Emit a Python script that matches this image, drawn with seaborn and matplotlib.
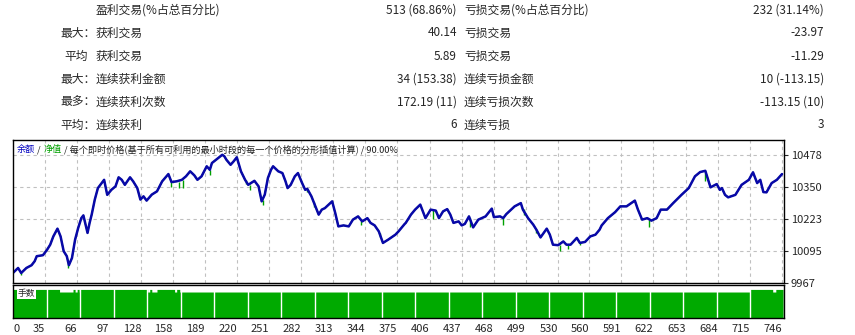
import numpy as np
import pandas as pd
import matplotlib
matplotlib.use("Agg")
import matplotlib.pyplot as plt
import seaborn as sns

# report table
prefix = ["", "最大：", "平均", "最大：", "最多：", "平均："]
win_labels = ["盈利交易(%占总百分比)", "获利交易", "获利交易", "连续获利金额", "连续获利次数", "连续获利"]
win_values = ["513 (68.86%)", "40.14", "5.89", "34 (153.38)", "172.19 (11)", "6"]
loss_labels = ["亏损交易(%占总百分比)", "亏损交易", "亏损交易", "连续亏损金额", "连续亏损次数", "连续亏损"]
loss_values = ["232 (31.14%)", "-23.97", "-11.29", "10 (-113.15)", "-113.15 (10)", "3"]

# balance curve (trade number, balance)
trade = [4, 9, 12, 17, 22, 25, 27, 33, 37, 40, 43, 47, 50, 53, 56, 58, 61, 64, 67, 70,
         72, 76, 78, 80, 83, 86, 92, 95, 99, 103, 106, 109, 112, 117, 120, 124, 127, 130,
         133, 138, 143, 148, 154, 157, 162, 167, 171, 175, 179, 182, 186, 191, 194, 196,
         206, 208, 210, 214, 217, 220, 224, 228, 231, 237, 241, 244, 247, 250, 253, 255,
         260, 264, 267, 269, 272, 276, 279, 283, 286, 288, 292, 299, 302, 305, 312, 315,
         318, 323, 328, 332, 337, 341, 346, 349, 353, 357, 361, 366, 373, 376, 382, 383,
         388, 392, 397, 402, 407, 412, 415, 419, 423, 426, 429, 434, 437, 440, 444, 448,
         453, 460, 466, 468, 474, 477, 480, 488, 494, 496, 501, 506, 509, 513, 519, 522,
         525, 530, 535, 538, 542, 548, 551, 556, 561, 566, 570, 572, 578, 585, 590, 596,
         604, 607, 611, 616, 620, 625, 629, 635, 641, 649, 656, 662, 667, 672, 677, 683,
         686, 688, 691, 694, 701, 707, 714, 718, 722, 725, 728, 731, 736, 741, 746]
balance = [10007, 10027, 10007, 10027, 10038, 10054, 10074, 10078, 10100, 10120, 10153,
           10184, 10153, 10094, 10074, 10038, 10067, 10140, 10187, 10226, 10237, 10167,
           10207, 10240, 10300, 10346, 10379, 10319, 10339, 10353, 10389, 10379, 10359,
           10389, 10373, 10346, 10300, 10313, 10296, 10320, 10333, 10373, 10402, 10370,
           10373, 10379, 10393, 10413, 10397, 10379, 10393, 10433, 10419, 10446, 10479,
           10473, 10459, 10439, 10453, 10469, 10413, 10379, 10359, 10375, 10353, 10293,
           10320, 10386, 10419, 10433, 10413, 10406, 10373, 10346, 10359, 10393, 10406,
           10366, 10339, 10343, 10313, 10240, 10260, 10266, 10293, 10246, 10193, 10197,
           10193, 10220, 10233, 10213, 10226, 10207, 10197, 10173, 10127, 10140, 10160,
           10173, 10203, 10207, 10240, 10260, 10280, 10226, 10260, 10256, 10226, 10253,
           10262, 10240, 10207, 10213, 10197, 10203, 10233, 10189, 10220, 10233, 10264,
           10230, 10233, 10226, 10242, 10273, 10286, 10260, 10226, 10200, 10180, 10149,
           10184, 10160, 10120, 10118, 10133, 10120, 10120, 10147, 10127, 10131, 10153,
           10160, 10180, 10197, 10226, 10250, 10273, 10273, 10296, 10260, 10220, 10226,
           10216, 10226, 10260, 10260, 10286, 10319, 10346, 10393, 10410, 10415, 10349,
           10362, 10339, 10346, 10319, 10309, 10319, 10359, 10379, 10409, 10366, 10379,
           10330, 10329, 10366, 10379, 10402]

# equity drawdown spikes (trade, top, bottom)
spike_trade = [12, 57, 157, 164, 168, 194, 229, 233, 245, 288, 294, 340, 358, 409, 445,
               477, 497, 509, 532, 540, 551, 618, 672]
spike_top = [10010, 10045, 10372, 10372, 10378, 10420, 10379, 10360, 10300, 10343, 10290,
             10215, 10165, 10258, 10225, 10228, 10262, 10182, 10120, 10120, 10127, 10220,
             10410]
spike_low = [9998, 10028, 10352, 10345, 10345, 10398, 10364, 10338, 10280, 10330, 10272,
             10197, 10150, 10224, 10189, 10197, 10240, 10165, 10094, 10103, 10118, 10189,
             10375]

# lots per trade, as segments (start trade, lots)
lot_start = [4, 49, 62, 64, 66, 68, 69, 134, 136, 138, 143, 160, 162, 165, 715, 737, 740, 748]
lot_size = [0.11, 0.10, 0.11, 0.10, 0.11, 0.10, 0.11, 0.10, 0.11, 0.10, 0.11, 0.10, 0.11,
            0.10, 0.11, 0.10, 0.11]

x_labels = ["0", "35", "66", "97", "128", "158", "189", "220", "251", "282", "313", "344",
            "375", "406", "437", "468", "499", "530", "560", "591", "622", "653", "684",
            "715", "746"]
y_ticks = [9967, 10095, 10223, 10350, 10478]

sns.set_style("white")
plt.rcParams['font.family'] = ['Noto Sans CJK SC', 'DejaVu Sans']

W, H = 855, 335
fig = plt.figure(figsize=(W / 100, H / 100), dpi=100)


def fx(px):
    return px / W


def fy(py):
    return 1 - py / H


# table
row_y = [10, 33, 56, 79, 102, 125]
for i, y in enumerate(row_y):
    if prefix[i]:
        px = 96 if prefix[i].endswith("：") else 88
        fig.text(fx(px), fy(y), prefix[i], ha="right", va="center", fontsize=8.5)
    fig.text(fx(96), fy(y), win_labels[i], ha="left", va="center", fontsize=8.5)
    fig.text(fx(457), fy(y), win_values[i], ha="right", va="center", fontsize=8.5)
    fig.text(fx(464), fy(y), loss_labels[i], ha="left", va="center", fontsize=8.5)
    fig.text(fx(824), fy(y), loss_values[i], ha="right", va="center", fontsize=8.5)

x0, x1 = 4.1, 747.9
tick_pos = [x0] + [int(v) for v in x_labels[1:]]

# main chart
ax = fig.add_axes([fx(13), fy(283), fx(784 - 13), (283 - 140) / H])
df = pd.DataFrame({"trade": trade, "balance": balance})
sns.lineplot(data=df, x="trade", y="balance", ax=ax, color="#00A000", linewidth=1.0)
ax.vlines(spike_trade, spike_low, spike_top, color="#00A000", linewidth=1.0)
sns.lineplot(data=df, x="trade", y="balance", ax=ax, color="#0808A8", linewidth=1.8)
ax.set_xlim(x0, x1)
ax.set_ylim(9967, 10538)
ax.set_xticks(tick_pos[1:])
ax.set_yticks(y_ticks)
ax.tick_params(axis="x", length=0, labelbottom=False)
ax.yaxis.tick_right()
ax.tick_params(axis="y", length=3, width=0.8, direction="out", labelsize=8, pad=2)
ax.grid(True, color="#C0C0C0", linestyle=(0, (3, 3)), linewidth=0.8)
ax.set_xlabel("")
ax.set_ylabel("")
for s in ax.spines.values():
    s.set_color("black")
    s.set_linewidth(1.0)

ty = fy(152)
fig.text(fx(17), ty, "余额", color="#0000C0", fontsize=6.6, va="baseline")
fig.text(fx(37), ty, "/", color="#202020", fontsize=6.6, va="baseline")
fig.text(fx(44), ty, "净值", color="#00A000", fontsize=6.6, va="baseline")
fig.text(fx(64), ty, "/ 每个即时价格(基于所有可利用的最小时段的每一个价格的分形插值计算) / 90.00%",
         color="#202020", fontsize=6.6, va="baseline")

# lots panel
lots = np.repeat(lot_size, np.diff(lot_start))
lot_x = np.arange(lot_start[0], lot_start[-1])
axv = fig.add_axes([fx(13), fy(318), fx(784 - 13), (318 - 285) / H])
axv.fill_between(lot_x, 0, lots, step="post", color="#00AA00", linewidth=0)
axv.set_xlim(x0, x1)
axv.set_ylim(0, 0.127)
axv.set_yticks([])
axv.set_xticks(tick_pos)
axv.set_xticklabels(x_labels)
for k, lab in enumerate(axv.get_xticklabels()):
    lab.set_ha("left" if k == 0 else "right")
axv.tick_params(axis="x", length=3, width=0.8, direction="out", labelsize=8, pad=1)
for gx in np.linspace(x0, x1, 24)[1:-1]:
    axv.axvline(gx, color="white", linewidth=1.0)
for s in axv.spines.values():
    s.set_color("black")
    s.set_linewidth(1.0)
axv.text(0.006, 0.88, "手数", transform=axv.transAxes, fontsize=6.3, va="top",
         bbox=dict(facecolor="white", edgecolor="none", pad=0.5))

fig.savefig("out.png", dpi=100)
